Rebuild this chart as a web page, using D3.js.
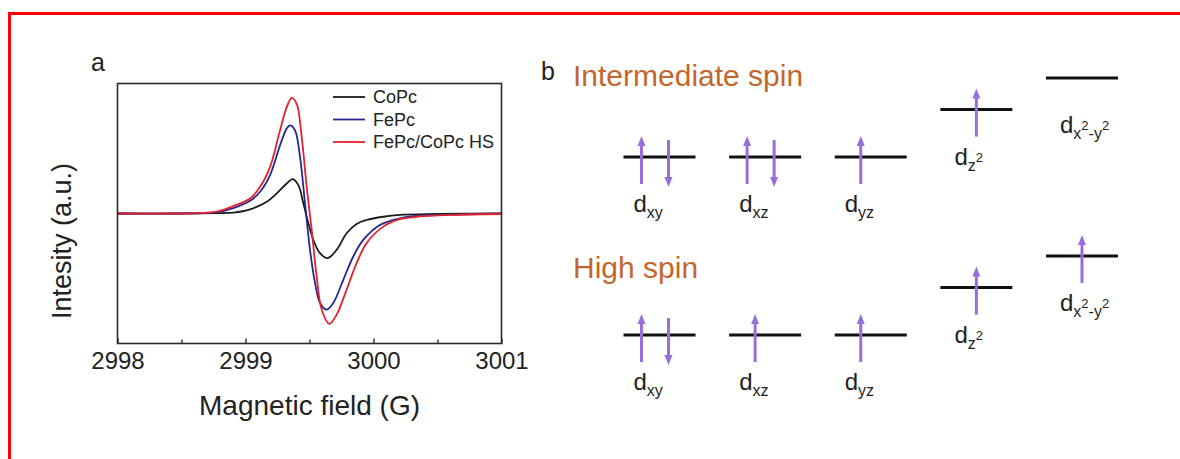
<!DOCTYPE html>
<html>
<head>
<meta charset="utf-8">
<script src="https://cdn.jsdelivr.net/npm/d3@7/dist/d3.min.js"></script>
<style>
  html, body { margin: 0; padding: 0; background: #fff; }
  svg { display: block; font-family: "Liberation Sans", Arial, sans-serif; }
</style>
</head>
<body>
<svg id="fig" width="1180" height="459"></svg>
<script>
  'use strict';

  // ---- panel a: EPR spectra, [field (G), intensity (a.u.)]
  var coPc = [
    [2998.0, 0], [2998.5, 0], [2998.78, 0.003], [2998.905, 0.007], [2999.036, 0.032],
    [2999.166, 0.090], [2999.244, 0.155], [2999.322, 0.231], [2999.369, 0.264],
    [2999.413, 0.218], [2999.452, 0.078], [2999.491, -0.075], [2999.530, -0.203],
    [2999.582, -0.305], [2999.642, -0.343], [2999.712, -0.280], [2999.790, -0.152],
    [2999.868, -0.080], [2999.946, -0.050], [3000.076, -0.025], [3000.206, -0.011],
    [3000.5, -0.004], [3001.0, 0]
  ];
  var fePc = [
    [2998.0, 0], [2998.5, 0], [2998.645, 0.002], [2998.776, 0.010], [2998.905, 0.042],
    [2999.036, 0.098], [2999.114, 0.167], [2999.192, 0.295], [2999.270, 0.525],
    [2999.322, 0.653], [2999.348, 0.678], [2999.387, 0.640], [2999.426, 0.435],
    [2999.465, 0.078], [2999.504, -0.280], [2999.543, -0.533], [2999.582, -0.688],
    [2999.634, -0.739], [2999.686, -0.688], [2999.764, -0.510], [2999.842, -0.331],
    [2999.920, -0.203], [3000.050, -0.088], [3000.206, -0.037], [3000.337, -0.019],
    [3000.6, -0.008], [3001.0, 0]
  ];
  var fePcCoPcHS = [
    [2998.0, 0], [2998.5, 0], [2998.645, 0.003], [2998.776, 0.014], [2998.905, 0.057],
    [2999.036, 0.116], [2999.114, 0.205], [2999.192, 0.359], [2999.270, 0.640],
    [2999.322, 0.818], [2999.361, 0.890], [2999.400, 0.844], [2999.439, 0.588],
    [2999.478, 0.205], [2999.517, -0.126], [2999.556, -0.484], [2999.595, -0.739],
    [2999.655, -0.849], [2999.712, -0.778], [2999.790, -0.586], [2999.868, -0.382],
    [2999.946, -0.228], [3000.076, -0.101], [3000.206, -0.044], [3000.337, -0.025],
    [3000.597, -0.011], [3001.0, -0.004]
  ];
  var seriesNames = ['CoPc', 'FePc', 'FePc/CoPc HS'];
  var seriesColors = ['#1b1b1b', '#27278f', '#e2222e'];
  var fieldTicks = [2998, 2999, 3000, 3001];
  var fieldMinorTicks = [2998.5, 2999.5, 3000.5];

  // ---- panel b: d-orbital splitting
  var spinStates = ['Intermediate spin', 'High spin'];
  var orbitals = ['xy', 'xz', 'yz', 'z2', 'x2-y2'];
  var orbitalEnergy = [0, 0, 0, 0.6, 1.0];
  // electrons in each orbital, 1 = spin up, -1 = spin down
  var isElectrons = [[1, -1], [1, -1], [1], [1], []];
  var hsElectrons = [[1, -1], [1], [1], [1], [1]];
  // subscript text of each label, 'sup' parts are raised
  var orbitalLabels = [
    [['xy', 'sub']],
    [['xz', 'sub']],
    [['yz', 'sub']],
    [['z', 'sub'], ['2', 'sup']],
    [['x', 'sub'], ['2', 'sup'], ['-y', 'sub'], ['2', 'sup']]
  ];

  var svg = d3.select('#fig');
  var ink = '#222';

  // red frame around the figure
  svg.append('path')
    .attr('d', 'M9.5,459V13.5H1180')
    .attr('fill', 'none')
    .attr('stroke', '#ff0000')
    .attr('stroke-width', 3);

  /**
   * Draws the EPR spectra panel.
   */
  function drawSpectra() {
    var left = 117.5, right = 501.5, top = 83.5, bottom = 343.5;
    var x = d3.scaleLinear().domain([2998, 3001]).range([left, right]);
    var y = d3.scaleLinear().domain([-1, 1]).range([bottom, top]);
    var g = svg.append('g').attr('class', 'panel-a');

    g.append('text')
      .attr('x', 91).attr('y', 71)
      .attr('font-size', 25).attr('fill', ink)
      .text('a');

    g.append('clipPath').attr('id', 'plot-clip')
      .append('rect')
      .attr('x', left).attr('y', top)
      .attr('width', right - left).attr('height', bottom - top);

    var line = d3.line()
      .x(function(d) { return x(d[0]); })
      .y(function(d) { return y(d[1]); })
      .curve(d3.curveCatmullRom.alpha(0.5));

    var series = [coPc, fePc, fePcCoPcHS];
    g.append('g').attr('clip-path', 'url(#plot-clip)')
      .selectAll('path')
      .data(series)
      .enter().append('path')
      .attr('d', line)
      .attr('fill', 'none')
      .attr('stroke', function(d, i) { return seriesColors[i]; })
      .attr('stroke-width', 1.8)
      .attr('stroke-linejoin', 'round');

    // frame
    g.append('rect')
      .attr('x', left).attr('y', top)
      .attr('width', right - left).attr('height', bottom - top)
      .attr('fill', 'none').attr('stroke', '#2a2a2a').attr('stroke-width', 1.6);

    var axis = g.append('g')
      .attr('transform', 'translate(0,' + bottom + ')')
      .call(d3.axisBottom(x).tickValues(fieldTicks).tickSize(-5).tickPadding(8)
        .tickFormat(d3.format('d')));
    g.append('g')
      .attr('transform', 'translate(0,' + bottom + ')')
      .call(d3.axisBottom(x).tickValues(fieldMinorTicks).tickSize(-4).tickFormat(''))
      .select('.domain').remove();
    axis.select('.domain').remove();
    g.selectAll('.tick line').attr('stroke', '#2a2a2a').attr('stroke-width', 1.4);
    axis.selectAll('.tick text')
      .attr('font-size', 24).attr('fill', ink)
      .attr('font-family', '"Liberation Sans", Arial, sans-serif');

    g.append('text')
      .attr('x', (left + right) / 2).attr('y', 415)
      .attr('text-anchor', 'middle')
      .attr('font-size', 28).attr('fill', ink)
      .text('Magnetic field (G)');

    g.append('text')
      .attr('transform', 'translate(71,241) rotate(-90)')
      .attr('text-anchor', 'middle')
      .attr('font-size', 27).attr('fill', ink)
      .text('Intesity (a.u.)');

    // legend
    var legend = g.append('g').selectAll('g')
      .data(seriesNames)
      .enter().append('g')
      .attr('transform', function(d, i) { return 'translate(333,' + (97 + i * 22.5) + ')'; });
    legend.append('line')
      .attr('x1', 0).attr('x2', 32)
      .attr('stroke', function(d, i) { return seriesColors[i]; })
      .attr('stroke-width', 1.8);
    legend.append('text')
      .attr('x', 40).attr('dy', '0.35em')
      .attr('font-size', 18).attr('fill', ink)
      .text(function(d) { return d; });
  }

  /**
   * Draws the orbital energy level diagrams.
   */
  function drawLevels() {
    var g = svg.append('g').attr('class', 'panel-b');
    var levelWidth = 72;
    var x = d3.scalePoint().domain(orbitals).range([623.5, 1046]);
    var rowY = d3.scalePoint().domain(spinStates).range([157, 335]);
    var energy = d3.scaleLinear().domain([0, 1]).range([0, -79]);
    var purple = '#9a6ed8';
    var titleY = [86, 278];

    g.append('text')
      .attr('x', 541).attr('y', 80)
      .attr('font-size', 25).attr('fill', ink)
      .text('b');

    spinStates.forEach(function(state, s) {
      var electrons = s === 0 ? isElectrons : hsElectrons;
      var row = g.append('g');

      row.append('text')
        .attr('x', 573).attr('y', titleY[s])
        .attr('font-size', 30).attr('fill', '#c4662c')
        .text(state);

      orbitals.forEach(function(orb, i) {
        var x0 = x(orb);
        var ly = rowY(state) + energy(orbitalEnergy[i]);

        row.append('line')
          .attr('x1', x0).attr('x2', x0 + levelWidth)
          .attr('y1', ly).attr('y2', ly)
          .attr('stroke', '#111').attr('stroke-width', 3);

        electrons[i].forEach(function(spin, k) {
          var ax;
          if (electrons[i].length === 2) {
            ax = x0 + (k === 0 ? 18 : 45);
          } else {
            ax = x0 + (i < 3 ? 26 : 36);
          }
          var tip = spin > 0 ? ly - 21 : ly + 30;
          var tail = spin > 0 ? ly + 27 : ly - 17;
          var dir = spin > 0 ? 1 : -1;
          row.append('line')
            .attr('x1', ax).attr('x2', ax)
            .attr('y1', tail).attr('y2', tip + dir * 8)
            .attr('stroke', purple).attr('stroke-width', 3);
          row.append('path')
            .attr('d', 'M' + ax + ',' + tip +
              'L' + (ax - 4) + ',' + (tip + dir * 10) +
              'L' + (ax + 4) + ',' + (tip + dir * 10) + 'Z')
            .attr('fill', purple);
        });

        // label: d with subscript (and raised 2s)
        var label = row.append('text')
          .attr('x', x0 + (i < 3 ? 10 : 14)).attr('y', ly + 55)
          .attr('fill', ink).attr('font-size', 24);
        label.append('tspan').text('d');
        var shift = 0;
        orbitalLabels[i].forEach(function(part) {
          var target = part[1] === 'sub' ? 6 : -3;
          label.append('tspan')
            .attr('dy', target - shift)
            .attr('font-size', part[1] === 'sub' ? 16 : 13)
            .text(part[0]);
          shift = target;
        });
      });
    });
  }

  drawSpectra();
  drawLevels();
</script>
</body>
</html>
